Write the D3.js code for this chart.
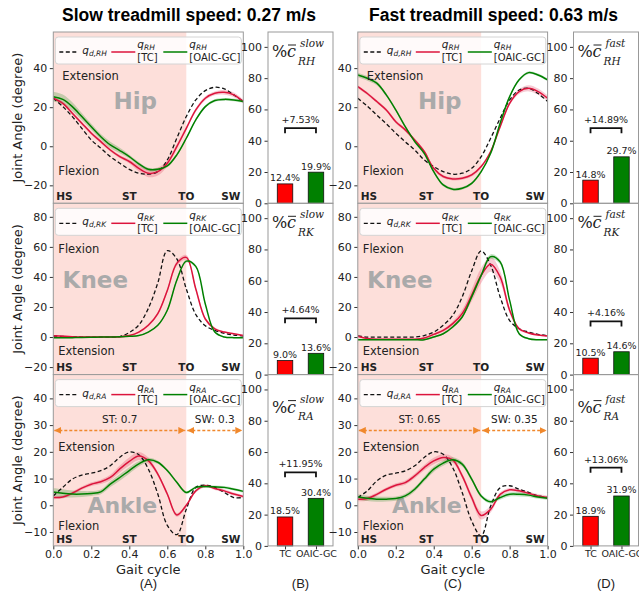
<!DOCTYPE html>
<html>
<head>
<meta charset="utf-8">
<script src="https://cdn.jsdelivr.net/npm/d3@7"></script>
<style>
  body { margin: 0; background: #fff; }
  svg { display: block; }
  text { font-family: "DejaVu Sans", sans-serif; fill: #222; }
</style>
</head>
<body>
<svg id="fig" width="639" height="593"></svg>
<script>
// ---- data ----
const gait = [0, 0.05, 0.1, 0.15, 0.2, 0.25, 0.3, 0.35, 0.4, 0.45, 0.5, 0.55, 0.6, 0.65, 0.7, 0.75, 0.8, 0.85, 0.9, 0.95, 1.0];

const slowHipRef  = [24.6, 20.3, 15.2, 9.2, 3.2, -1, -5.3, -8.7, -11.8, -13.8, -14.3, -13, -7, 4.1, 15.2, 23.7, 28.5, 30.2, 29.4, 26.3, 22.9];
const slowHipTC   = [24.6, 22, 16.9, 11.8, 6.7, 2.4, -1.9, -5.3, -7.8, -11.3, -13.8, -13, -8.7, -0.2, 9.2, 18.6, 24.6, 27.1, 27.6, 26.3, 22.9];
const slowHipOAIC = [25.4, 24, 20.3, 15.2, 10, 4.9, 0.7, -2.2, -5.3, -9, -11.8, -11.8, -10.1, -4.4, 4.1, 13.5, 20.3, 23.4, 24, 23.7, 22.9];
const slowHipTCsd   = [0.8, 0.8, 0.8, 0.8, 0.8, 0.8, 0.8, 0.8, 1, 1.5, 2, 2, 1.5, 1.2, 1, 1, 1, 1, 1.2, 1.2, 1];
const slowHipOAICsd = [2.5, 2.5, 2.2, 1.8, 1.5, 1.4, 1.6, 1.4, 1, 1, 0.8, 0.8, 0.7, 0.7, 0.7, 0.7, 0.7, 0.7, 0.7, 0.7, 0.7];

const fastHipRef  = [24.6, 20.5, 16, 11.5, 6.7, 2.3, -1.9, -7, -10.4, -13, -14.3, -13.8, -11.3, -5.3, 4.1, 14.3, 23.7, 28.8, 29.7, 27, 22.9];
const fastHipTC   = [30.5, 27, 22.9, 18.6, 12.6, 8.4, 3.2, -2.7, -11.3, -15.5, -16.7, -16.4, -14.7, -10.4, -2.7, 10, 22, 28, 29.7, 28, 24.6];
const fastHipOAIC = [36.5, 34.8, 32.3, 26.3, 18.6, 10, 2.4, -3.6, -13, -19.8, -22, -21.5, -19, -13, -3.6, 11.8, 25.4, 34, 37.7, 36.5, 34];
const fastHipTCsd   = [0.8, 0.8, 0.8, 0.8, 0.8, 0.8, 0.8, 0.8, 0.8, 0.8, 0.8, 0.8, 0.8, 0.8, 0.8, 0.8, 1, 1.3, 1.6, 1.6, 1.5];
const fastHipOAICsd = [1.2, 1.2, 1, 0.8, 0.7, 0.7, 0.7, 0.7, 0.7, 0.7, 0.7, 0.7, 0.7, 0.7, 0.7, 0.7, 0.7, 0.7, 0.7, 0.7, 0.7];

const slowKneeRef  = [0.7, 0.4, 0.1, 0, 0, 0, 0, 0.3, 3, 8, 19, 36, 57.5, 52, 32, 15, 7.5, 4.5, 2.5, 1.3, 0.7];
const slowKneeTC   = [0.8, 0.5, 0.2, 0, 0, 0, 0, 0.2, 1, 3.3, 7.8, 15.6, 31, 49, 53, 32, 12, 5.5, 3.3, 2.2, 1];
const slowKneeOAIC = [-0.4, -0.4, -0.4, -0.3, -0.2, 0, 0, 0.2, 0.5, 1, 3.3, 7.8, 17.8, 37.8, 50.5, 47, 22, 3.3, 0, -0.4, -0.4];
const slowKneeTCsd   = [0.5, 0.5, 0.5, 0.5, 0.5, 0.5, 0.5, 0.5, 0.5, 0.6, 0.8, 1, 1.3, 1.6, 1.6, 1.3, 1, 0.8, 0.6, 0.5, 0.5];
const slowKneeOAICsd = [0.4, 0.4, 0.4, 0.4, 0.4, 0.4, 0.4, 0.4, 0.4, 0.4, 0.5, 0.6, 0.8, 1, 1, 0.9, 0.7, 0.5, 0.4, 0.4, 0.4];

const fastKneeRef  = [0.7, 0, 0, 0, 0, 0, 0, 1, 3.3, 7.8, 14.4, 26.7, 44, 57.3, 47.8, 26.7, 11, 5.5, 3.3, 1.8, 0.9];
const fastKneeTC   = [0.5, -1, -1.5, -1.5, -1.5, -1.5, -1.5, -0.7, 1.8, 4.4, 8.9, 15.6, 27.8, 41, 48.4, 40, 17.8, 5.5, 2.7, 1.3, 0.7];
const fastKneeOAIC = [-1.8, -1.8, -1.8, -1.8, -1.8, -1.8, -1.8, -1.8, 0, 2.2, 6.7, 13.3, 26.7, 41, 53.5, 50, 24.4, 2.2, -1.1, -1.8, -1.8];
const fastKneeTCsd   = [0.5, 0.5, 0.5, 0.5, 0.5, 0.5, 0.5, 0.6, 0.8, 1, 1.5, 2.5, 4, 5, 5, 4, 2, 1, 0.6, 0.5, 0.5];
const fastKneeOAICsd = [0.4, 0.4, 0.4, 0.4, 0.4, 0.4, 0.4, 0.4, 0.5, 0.6, 0.8, 1, 1.2, 1.5, 1.6, 1.5, 1, 0.6, 0.4, 0.4, 0.4];

const slowAnkleRef  = [3.5, 6.7, 9.8, 11.3, 12, 13, 14.8, 18, 20, 18.9, 13.6, 4.2, -7.5, -11, -1.5, 6.7, 7.5, 6.7, 4.8, 2.9, 2.9];
const slowAnkleTC   = [2.9, 3.1, 4.5, 6.4, 7.9, 8.8, 10.4, 13.6, 16.4, 18.4, 16.7, 11.7, 4.2, -3.6, 0, 5.4, 7.3, 6.3, 5.4, 4.2, 3.3];
const slowAnkleOAIC = [5, 4.5, 4.2, 4.2, 4.4, 5, 7.9, 10.4, 13, 15.5, 17, 16.1, 13, 8.6, 4.8, 6.7, 7, 6.9, 6.7, 6, 5.2];
const slowAnkleTCsd   = [0.6, 0.6, 0.6, 0.6, 0.7, 0.8, 1, 1.3, 1.5, 1.5, 1.2, 0.8, 0.7, 0.7, 0.6, 0.6, 0.6, 0.6, 0.6, 0.6, 0.6];
const slowAnkleOAICsd = [1.5, 1.5, 1.3, 1.1, 0.9, 0.9, 1.1, 1.2, 1.2, 1, 0.8, 0.6, 0.5, 0.5, 0.5, 0.5, 0.5, 0.5, 0.5, 0.5, 0.5];

const fastAnkleRef  = [2.9, 5.4, 9.1, 11.3, 12, 12.9, 14.8, 17.9, 20, 19.1, 14.1, 4.8, -5.9, -11.5, -0.3, 6.6, 7.3, 6, 4.8, 3.5, 2.9];
const fastAnkleTC   = [2.3, 2.5, 4.1, 6, 7.5, 8.5, 11, 14.1, 16.6, 17.9, 17, 11, 2.9, -3.8, -1.5, 4.1, 5.8, 5.4, 4.5, 3.5, 2.9];
const fastAnkleOAIC = [3.1, 2.6, 2.3, 2.3, 2.5, 3.5, 6, 9.8, 13.5, 15.8, 17, 15.4, 9.8, 3.5, 1.3, 2.9, 4.1, 4.1, 3.8, 3.1, 2.6];
const fastAnkleTCsd   = [0.8, 0.8, 0.7, 0.7, 0.7, 0.8, 0.9, 1, 1.2, 1.2, 1.1, 1, 1.2, 1.5, 1.2, 0.8, 0.7, 0.7, 0.7, 0.7, 0.7];
const fastAnkleOAICsd = [1, 1, 1, 0.9, 0.8, 0.8, 0.8, 0.9, 1, 1, 1, 0.9, 0.8, 0.7, 0.7, 0.8, 0.8, 0.8, 0.7, 0.7, 0.7];

const barLabels = ['TC', 'OAIC-GC'];
const slowCost = [[12.4, 19.9], [9.0, 13.6], [18.5, 30.4]];
const fastCost = [[14.8, 29.7], [10.5, 14.6], [18.9, 31.9]];
const slowGain = ['+7.53%', '+4.64%', '+11.95%'];
const fastGain = ['+14.89%', '+4.16%', '+13.06%'];
const slowBracket = [48, 36, 47];
const fastBracket = [48, 34, 50];

const joints = ['Hip', 'Knee', 'Ankle'];
const jointSub = ['RH', 'RK', 'RA'];
const jointTicks = [[-20, 0, 20, 40], [-20, 0, 20, 40, 60, 80], [-10, 0, 10, 20, 30, 40]];
const barTicks = [0, 20, 40, 60, 80, 100];
const gaitTicks = [0, 0.2, 0.4, 0.6, 0.8, 1.0];
const stance = { slow: 0.7, fast: 0.65 };

// ---- layout ----
const rowTop = [32, 203.3, 374.6], rowH = 171.3;
const jointDomain = [[-29.2, 58.5], [-25, 89], [-15.2, 48.9]];
const cols = {
  slow: { line: [53.3, 243.3], bar: [268, 333], stPos: 0.4 },
  fast: { line: [357.8, 547.6], bar: [573.5, 638.5], stPos: 0.36 }
};
const RED = '#dc143c', GREEN = '#008000', SHADE = '#fddfda', ORANGE = '#f0882c';

const svg = d3.select('#fig');
const defs = svg.append('defs');
defs.append('marker')
  .attr('id', 'arr').attr('viewBox', '0 0 10 10')
  .attr('refX', 10).attr('refY', 5)
  .attr('markerWidth', 7).attr('markerHeight', 7)
  .attr('markerUnits', 'userSpaceOnUse')
  .attr('orient', 'auto-start-reverse')
  .append('path').attr('d', 'M0,0 L10,5 L0,10 z').attr('fill', ORANGE);

const minus = d => d < 0 ? '\u2212' + Math.abs(d) : String(d);

const series = {
  slow: [
    [slowHipRef, slowHipTC, slowHipOAIC, slowHipTCsd, slowHipOAICsd],
    [slowKneeRef, slowKneeTC, slowKneeOAIC, slowKneeTCsd, slowKneeOAICsd],
    [slowAnkleRef, slowAnkleTC, slowAnkleOAIC, slowAnkleTCsd, slowAnkleOAICsd]
  ],
  fast: [
    [fastHipRef, fastHipTC, fastHipOAIC, fastHipTCsd, fastHipOAICsd],
    [fastKneeRef, fastKneeTC, fastKneeOAIC, fastKneeTCsd, fastKneeOAICsd],
    [fastAnkleRef, fastAnkleTC, fastAnkleOAIC, fastAnkleTCsd, fastAnkleOAICsd]
  ]
};

// text positions inside each line panel (offsets from panel top)
const dirText = [
  [['Extension', 48, 9], ['Flexion', 143, 5]],
  [['Flexion', 50, 5], ['Extension', 152, 5]],
  [['Extension', 76, 5], ['Flexion', 155, 5]]
];
const jointPos = [[82, 77], [42, 85], [69, 138]];

function linePanel(speed, r) {
  const [x0, x1] = cols[speed].line;
  const top = rowTop[r];
  const x = d3.scaleLinear().domain([0, 1]).range([x0, x1]);
  const y = d3.scaleLinear().domain(jointDomain[r]).range([top + rowH, top]);
  const [ref, tc, oaic, tcSd, oaicSd] = series[speed][r];
  const st = stance[speed];
  const g = svg.append('g');

  const clipId = `clip-${speed}-${r}`;
  defs.append('clipPath').attr('id', clipId)
    .append('rect').attr('x', x0).attr('y', top).attr('width', x1 - x0).attr('height', rowH);

  g.append('rect')
    .attr('x', x(0)).attr('y', top)
    .attr('width', x(st) - x(0)).attr('height', rowH)
    .attr('fill', SHADE);

  // joint name
  g.append('text')
    .attr('x', x0 + jointPos[r][0]).attr('y', top + jointPos[r][1])
    .attr('text-anchor', 'middle')
    .style('font-size', r === 2 ? '22px' : '23px').style('font-weight', 'bold').style('fill', '#aaaaaa')
    .text(joints[r]);

  const cg = g.append('g').attr('clip-path', `url(#${clipId})`);
  const band = (vals, sd) => d3.area()
    .x((d, i) => x(gait[i]))
    .y0((d, i) => y(vals[i] - sd[i]))
    .y1((d, i) => y(vals[i] + sd[i]))
    .curve(d3.curveCatmullRom)(vals);
  const line = d3.line().x((d, i) => x(gait[i])).y(d => y(d)).curve(d3.curveCatmullRom);

  cg.append('path').attr('d', band(tc, tcSd)).attr('fill', RED).attr('fill-opacity', 0.22);
  cg.append('path').attr('d', band(oaic, oaicSd)).attr('fill', GREEN).attr('fill-opacity', 0.22);
  cg.append('path').attr('d', line(ref)).attr('fill', 'none')
    .attr('stroke', '#111').attr('stroke-width', 1.3).attr('stroke-dasharray', '4,2.5');
  cg.append('path').attr('d', line(tc)).attr('fill', 'none').attr('stroke', RED).attr('stroke-width', 1.5);
  cg.append('path').attr('d', line(oaic)).attr('fill', 'none').attr('stroke', GREEN).attr('stroke-width', 1.5);

  // direction labels
  dirText[r].forEach(([t, dy, dx]) => {
    g.append('text').attr('x', x0 + dx).attr('y', top + dy)
      .style('font-size', '11.5px').text(t);
  });

  // phase labels
  const ph = g.append('g').style('font-size', '10.5px').style('font-weight', 'bold');
  ph.append('text').attr('x', x0 + 3).attr('y', top + 168).text('HS');
  ph.append('text').attr('x', x(cols[speed].stPos)).attr('y', top + 168).attr('text-anchor', 'middle').text('ST');
  ph.append('text').attr('x', x(st)).attr('y', top + 168).attr('text-anchor', 'middle').text('TO');
  ph.append('text').attr('x', x1 - 3).attr('y', top + 168).attr('text-anchor', 'end').text('SW');

  // stance / swing arrows on the ankle row
  if (r === 2) {
    const ay = y(28);
    [[0, st], [st, 1]].forEach(([a, b]) => {
      g.append('line')
        .attr('x1', x(a) + 1).attr('x2', x(b) - 1).attr('y1', ay).attr('y2', ay)
        .attr('stroke', ORANGE).attr('stroke-width', 1.4).attr('stroke-dasharray', '3,2')
        .attr('marker-start', 'url(#arr)').attr('marker-end', 'url(#arr)');
    });
    g.append('text').attr('x', x(st / 2)).attr('y', top + 48).attr('text-anchor', 'middle')
      .style('font-size', '10.5px').text(`ST: ${st}`);
    g.append('text').attr('x', x((1 + st) / 2)).attr('y', top + 48).attr('text-anchor', 'middle')
      .style('font-size', '10.5px').text(`SW: ${+(1 - st).toFixed(2)}`);
  }

  // legend
  const lg = g.append('g').attr('transform', `translate(${x0},${top})`);
  lg.append('rect').attr('x', 2).attr('y', 5).attr('width', 186).attr('height', 27).attr('rx', 3)
    .attr('fill', '#fff').attr('fill-opacity', 0.85).attr('stroke', '#d4d4d4');
  lg.append('line').attr('x1', 6).attr('x2', 25).attr('y1', 20).attr('y2', 20)
    .attr('stroke', '#111').attr('stroke-width', 1.3).attr('stroke-dasharray', '4,2.5');
  const q1 = lg.append('text').attr('x', 29).attr('y', 22).style('font-size', '10.5px');
  q1.append('tspan').style('font-style', 'italic').text('q');
  q1.append('tspan').attr('dy', 2).style('font-size', '7.5px').style('font-style', 'italic').text(`d,${jointSub[r]}`);
  [[RED, 58, '[TC]'], [GREEN, 110, '[OAIC-GC]']].forEach(([c, lx, lab]) => {
    lg.append('line').attr('x1', lx).attr('x2', lx + 24).attr('y1', 20).attr('y2', 20)
      .attr('stroke', c).attr('stroke-width', 1.5);
    const t = lg.append('text').attr('x', lx + 26).attr('y', 16).style('font-size', '10.5px');
    t.append('tspan').style('font-style', 'italic').text('q');
    t.append('tspan').attr('dy', 2).style('font-size', '7.5px').style('font-style', 'italic').text(jointSub[r]);
    lg.append('text').attr('x', lx + 26).attr('y', 28.5).style('font-size', '10px').text(lab);
  });

  // y axis
  const ya = g.append('g').attr('transform', `translate(${x0},0)`)
    .call(d3.axisLeft(y).tickValues(jointTicks[r]).tickSize(3.5).tickPadding(2.5).tickFormat(minus));
  ya.select('.domain').remove();
  ya.selectAll('line').attr('stroke', '#333');
  ya.selectAll('text').style('font-size', '11px').style('fill', '#222');

  if (r === 2) {
    const xa = g.append('g').attr('transform', `translate(0,${top + rowH})`)
      .call(d3.axisBottom(x).tickValues(gaitTicks).tickSize(3.5).tickPadding(0.5).tickFormat(d3.format('.1f')));
    xa.select('.domain').remove();
    xa.selectAll('line').attr('stroke', '#333');
    xa.selectAll('text').style('font-size', '11px').style('fill', '#222');
  }

  g.append('rect').attr('x', x0).attr('y', top).attr('width', x1 - x0).attr('height', rowH)
    .attr('fill', 'none').attr('stroke', '#999').attr('stroke-width', 1);
}

function barPanel(speed, r) {
  const [x0, x1] = cols[speed].bar;
  const top = rowTop[r];
  const vals = speed === 'slow' ? slowCost[r] : fastCost[r];
  const gain = speed === 'slow' ? slowGain[r] : fastGain[r];
  const br = speed === 'slow' ? slowBracket[r] : fastBracket[r];
  const x = d3.scaleLinear().domain([-0.55, 1.55]).range([x0, x1]);
  const y = d3.scaleLinear().domain([0, 109.5]).range([top + rowH, top]);
  const g = svg.append('g');
  const bw = x(0.5) - x(0);

  g.selectAll('rect.bar').data(vals).enter().append('rect')
    .attr('class', 'bar')
    .attr('x', (d, i) => x(i) - bw / 2).attr('width', bw)
    .attr('y', d => y(d)).attr('height', d => y(0) - y(d))
    .attr('fill', (d, i) => i === 0 ? 'red' : GREEN)
    .attr('stroke', '#111').attr('stroke-width', 0.8);

  g.selectAll('text.val').data(vals).enter().append('text')
    .attr('class', 'val')
    .attr('x', (d, i) => x(i)).attr('y', d => y(d) - 2.5)
    .attr('text-anchor', 'middle').style('font-size', '9.5px')
    .text(d => d.toFixed(1) + '%');

  // bracket
  g.append('path')
    .attr('d', `M${x(0)},${y(br) + 5} V${y(br)} H${x(1)} V${y(br) + 5}`)
    .attr('fill', 'none').attr('stroke', '#111').attr('stroke-width', 1.8);
  g.append('text').attr('x', (x(0) + x(1)) / 2).attr('y', y(br) - 5)
    .attr('text-anchor', 'middle').style('font-size', '9.5px').text(gain);

  // cost label  %c̄^speed_joint
  const ly = top + (r === 2 ? 38 : 25);
  const serif = '"DejaVu Serif", serif';
  g.append('text').attr('x', x0 + 4).attr('y', ly)
    .style('font-family', serif).style('font-size', '16px').text('%');
  g.append('text').attr('x', x0 + 19).attr('y', ly)
    .style('font-family', serif).style('font-size', '16px').style('font-style', 'italic').text('c');
  g.append('line').attr('x1', x0 + 20).attr('x2', x0 + 28).attr('y1', ly - 12).attr('y2', ly - 12)
    .attr('stroke', '#222').attr('stroke-width', 1);
  g.append('text').attr('x', x0 + 32).attr('y', ly - 10)
    .style('font-family', serif).style('font-size', '10.5px').style('font-style', 'italic').text(speed);
  g.append('text').attr('x', x0 + 30).attr('y', ly + 7.5)
    .style('font-family', serif).style('font-size', '10.5px').style('font-style', 'italic').text(jointSub[r]);

  const ya = g.append('g').attr('transform', `translate(${x0},0)`)
    .call(d3.axisLeft(y).tickValues(barTicks).tickSize(3.5).tickPadding(2.5));
  ya.select('.domain').remove();
  ya.selectAll('line').attr('stroke', '#333');
  ya.selectAll('text').style('font-size', '11px').style('fill', '#222');

  if (r === 2) {
    const xa = g.append('g').attr('transform', `translate(0,${top + rowH})`)
      .call(d3.axisBottom(x).tickValues([0, 1]).tickSize(3.5).tickPadding(0.5).tickFormat((d, i) => barLabels[i]));
    xa.select('.domain').remove();
    xa.selectAll('line').attr('stroke', '#333');
    xa.selectAll('text').style('font-size', '9.5px').style('fill', '#222');
  }

  g.append('rect').attr('x', x0).attr('y', top).attr('width', x1 - x0).attr('height', rowH)
    .attr('fill', 'none').attr('stroke', '#999').attr('stroke-width', 1);
}

['slow', 'fast'].forEach(sp => {
  [0, 1, 2].forEach(r => { linePanel(sp, r); barPanel(sp, r); });
});

// y labels
rowTop.forEach(t => {
  svg.append('text')
    .attr('transform', `translate(21.5,${t + rowH / 2}) rotate(-90)`)
    .attr('text-anchor', 'middle').style('font-size', '13px')
    .text('Joint Angle (degree)');
});

// titles
svg.append('text').attr('x', 189).attr('y', 21).attr('text-anchor', 'middle')
  .style('font-family', '"Liberation Sans", Arial, sans-serif').style('font-weight', 'bold').style('font-size', '17.5px')
  .style('fill', '#000').text('Slow treadmill speed: 0.27 m/s');
svg.append('text').attr('x', 493.5).attr('y', 21).attr('text-anchor', 'middle')
  .style('font-family', '"Liberation Sans", Arial, sans-serif').style('font-weight', 'bold').style('font-size', '17.5px')
  .style('fill', '#000').text('Fast treadmill speed: 0.63 m/s');

// bottom labels
[['Gait cycle', 148.3], ['Gait cycle', 452.7]].forEach(([t, cx]) => {
  svg.append('text').attr('x', cx).attr('y', 574).attr('text-anchor', 'middle')
    .style('font-size', '13px').text(t);
});
[['(A)', 148.3], ['(B)', 300.5], ['(C)', 452.7], ['(D)', 606]].forEach(([t, cx]) => {
  svg.append('text').attr('x', cx).attr('y', 588).attr('text-anchor', 'middle')
    .style('font-family', '"Liberation Sans", Arial, sans-serif').style('font-size', '13px').text(t);
});
</script>
</body>
</html>
